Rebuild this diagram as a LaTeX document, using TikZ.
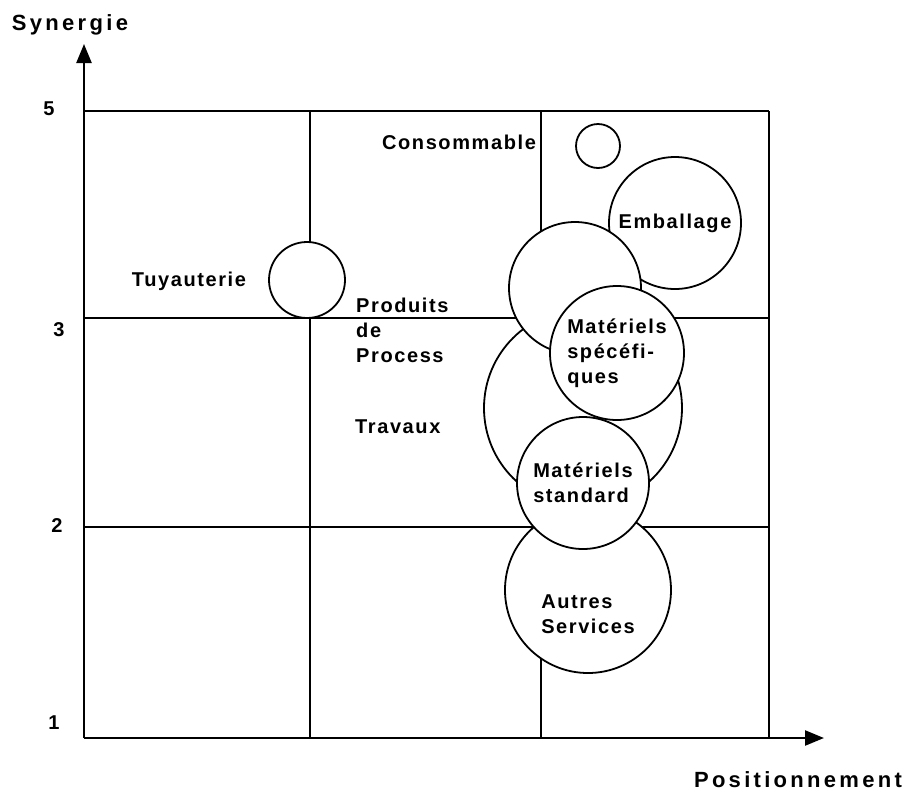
\documentclass[tikz,border=0pt]{standalone}
\usepackage{fontspec}
\setmainfont{Liberation Sans}[LetterSpace=8]
\newfontfamily\axisfont{Liberation Sans}[LetterSpace=15]
\usetikzlibrary{arrows.meta, shapes}

\tikzset{
  txt/.style={font=\fontsize{20}{25}\selectfont\bfseries},
  bubble/.style={circle, draw, fill=white, line width=1.8pt, inner sep=0pt, align=left, txt},
  lbl/.style={inner sep=0pt, align=left, txt},
  grid/.style={line width=2pt},
  axis/.style={line width=2.4pt, -{Triangle[length=19pt,width=15pt]}},
}

\begin{document}
\begin{tikzpicture}[x=1pt, y=-1pt]
      \useasboundingbox (0,0) rectangle (911,793);

      % Axes
      \coordinate (o) at (84,738);
      \coordinate (ytip) at (84,44);
      \coordinate (xtip) at (824,738);
      \draw[axis] (o) -- (ytip);
      \draw[axis] (o) -- (xtip);

      % Grid
      \foreach \y in {111,318,527}
        \draw[grid] (84,\y) -- (769,\y);
      \foreach \x in {310,541,769}
        \draw[grid] (\x,111) -- (\x,738);

      % Bubbles
      \node[bubble, minimum size=132pt] (emb) at (675,223) {Emballage};
      \node[bubble, minimum size=198pt] (trav) at (583,408) {};
      \node[bubble, minimum size=132pt] (proc) at (575,288) {};
      \node[bubble, minimum size=166pt] (autres) at (588,590) {};
      \node[bubble, minimum size=134pt] (spec) at (617,353) {Matériels\\spécéfi-\\ques};
      \node[bubble, minimum size=132pt] (std) at (583,483) {Matériels\\standard};
      \node[bubble, minimum size=76pt] (tuy) at (307,280) {};
      \node[bubble, minimum size=44pt] (cons) at (598,146) {};

      % Labels
      \node[lbl] (autresLbl) at (588,614) {Autres\\Services};
      \node[lbl] (tuyLbl) at (189,281) {Tuyauterie};
      \node[lbl] (consLbl) at (459,142) {Consommable};
      \node[lbl, anchor=west] (procLbl) at (356,330) {Produits\\de\\Process};
      \node[lbl, anchor=west] (travLbl) at (355,427) {Travaux};

      % Ticks
      \node[lbl] (t5) at (49,109) {5};
      \node[lbl] (t3) at (59,330) {3};
      \node[lbl] (t2) at (57,526) {2};
      \node[lbl] (t1) at (54,723) {1};

      % Axis titles
      \node[inner sep=0pt, font=\axisfont\fontsize{22}{26}\selectfont\bfseries] (syn) at (70,25) {Synergie};
      \node[inner sep=0pt, font=\axisfont\fontsize{22}{26}\selectfont\bfseries] (pos) at (798,780) {Positionnement};

    \end{tikzpicture}
\end{document}
